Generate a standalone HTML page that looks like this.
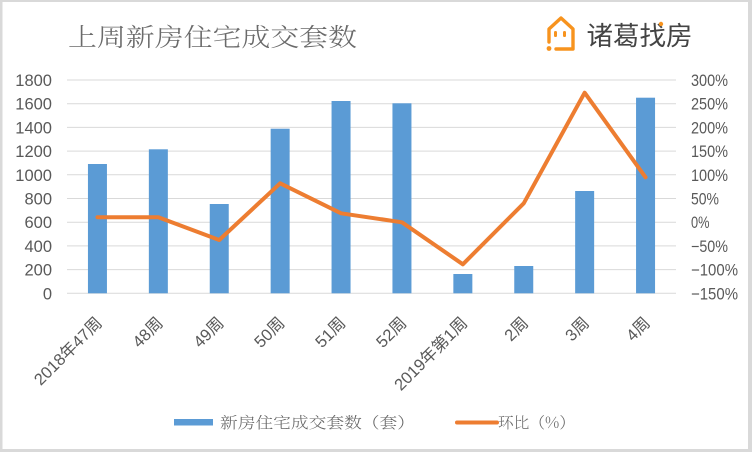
<!DOCTYPE html>
<html><head><meta charset="utf-8"><style>
html,body{margin:0;padding:0;background:#fff;}
svg{display:block;}
</style></head><body>
<svg width="752" height="452" viewBox="0 0 752 452" xmlns="http://www.w3.org/2000/svg">
<rect x="0" y="0" width="752" height="452" fill="#d9d9d9"/>
<rect x="2.5" y="2" width="745.5" height="447" fill="#ffffff"/>

<!-- title -->
<text x="68" y="46" font-family="'Noto Serif CJK SC','Liberation Serif',serif" font-size="25" font-weight="300" fill="#6a6a6a" textLength="289" lengthAdjust="spacingAndGlyphs">上周新房住宅成交套数</text>

<!-- logo -->
<g fill="none" stroke="#F7931E" stroke-width="3.4" stroke-linejoin="round" stroke-linecap="round">
<path d="M549 42 V29 L561 18 L573 29 V49 H556"/>
</g>
<circle cx="549" cy="48.5" r="2.4" fill="#F7931E"/>
<rect x="554" y="31" width="3" height="6" rx="1.4" fill="#F7931E"/>
<rect x="563" y="31" width="3" height="6" rx="1.4" fill="#F7931E"/>
<text x="586.5" y="45" font-family="'Noto Sans CJK SC',sans-serif" font-size="26" fill="#444444" textLength="106" lengthAdjust="spacingAndGlyphs">诸葛找房</text>
<circle cx="661" cy="24" r="2.2" fill="#F7931E"/>

<!-- gridlines -->
<g stroke="#d9d9d9" stroke-width="1">
<line x1="67" x2="676" y1="80" y2="80"/>
<line x1="67" x2="676" y1="103.7" y2="103.7"/>
<line x1="67" x2="676" y1="127.4" y2="127.4"/>
<line x1="67" x2="676" y1="151.1" y2="151.1"/>
<line x1="67" x2="676" y1="174.8" y2="174.8"/>
<line x1="67" x2="676" y1="198.5" y2="198.5"/>
<line x1="67" x2="676" y1="222.2" y2="222.2"/>
<line x1="67" x2="676" y1="245.9" y2="245.9"/>
<line x1="67" x2="676" y1="269.6" y2="269.6"/>
<line x1="67" x2="676" y1="293.3" y2="293.3"/>
</g>

<!-- left axis labels -->
<g font-family="'Liberation Sans',sans-serif" font-size="16.5" fill="#595959" text-anchor="end">
<text x="52" y="86">1800</text>
<text x="52" y="109.7">1600</text>
<text x="52" y="133.4">1400</text>
<text x="52" y="157.1">1200</text>
<text x="52" y="180.8">1000</text>
<text x="52" y="204.5">800</text>
<text x="52" y="228.2">600</text>
<text x="52" y="251.9">400</text>
<text x="52" y="275.6">200</text>
<text x="52" y="299.3">0</text>
</g>

<!-- right axis labels -->
<g font-family="'Liberation Sans',sans-serif" font-size="16.5" fill="#595959">
<text x="691" y="86" textLength="37" lengthAdjust="spacingAndGlyphs">300%</text>
<text x="691" y="109.7" textLength="37" lengthAdjust="spacingAndGlyphs">250%</text>
<text x="691" y="133.4" textLength="37" lengthAdjust="spacingAndGlyphs">200%</text>
<text x="691" y="157.1" textLength="37" lengthAdjust="spacingAndGlyphs">150%</text>
<text x="691" y="180.8" textLength="37" lengthAdjust="spacingAndGlyphs">100%</text>
<text x="691" y="204.5" textLength="28" lengthAdjust="spacingAndGlyphs">50%</text>
<text x="691" y="228.2" textLength="18.5" lengthAdjust="spacingAndGlyphs">0%</text>
<text x="691" y="251.9" textLength="37" lengthAdjust="spacingAndGlyphs">−50%</text>
<text x="691" y="275.6" textLength="47" lengthAdjust="spacingAndGlyphs">−100%</text>
<text x="691" y="299.3" textLength="47" lengthAdjust="spacingAndGlyphs">−150%</text>
</g>

<!-- bars -->
<g fill="#5B9BD5">
<rect x="87.95" y="164" width="19" height="129.3"/>
<rect x="148.85" y="149.3" width="19" height="144"/>
<rect x="209.75" y="204" width="19" height="89.3"/>
<rect x="270.65" y="128.7" width="19" height="164.6"/>
<rect x="331.55" y="101" width="19" height="192.3"/>
<rect x="392.45" y="103.3" width="19" height="190"/>
<rect x="453.35" y="274" width="19" height="19.3"/>
<rect x="514.25" y="266" width="19" height="27.3"/>
<rect x="575.15" y="191" width="19" height="102.3"/>
<rect x="636.05" y="97.7" width="19" height="195.6"/>
</g>

<!-- line -->
<polyline fill="none" stroke="#ED7D31" stroke-width="4" stroke-linejoin="round" stroke-linecap="round"
points="97.45,217.3 158.35,217.3 219.25,240 280.15,183.3 341.05,213.3 401.95,222.3 462.85,264.3 523.75,203.3 584.65,92.7 645.55,177.3"/>

<!-- x labels -->
<g font-family="'Liberation Sans','Noto Sans CJK SC',sans-serif" font-size="16.5" fill="#595959" text-anchor="end">
<text transform="translate(103,324) rotate(-45)">2018年47周</text>
<text transform="translate(163.9,324) rotate(-45)">48周</text>
<text transform="translate(224.8,324) rotate(-45)">49周</text>
<text transform="translate(285.7,324) rotate(-45)">50周</text>
<text transform="translate(346.6,324) rotate(-45)">51周</text>
<text transform="translate(407.5,324) rotate(-45)">52周</text>
<text transform="translate(468.4,324) rotate(-45)">2019年第1周</text>
<text transform="translate(529.3,324) rotate(-45)">2周</text>
<text transform="translate(590.2,324) rotate(-45)">3周</text>
<text transform="translate(651.1,324) rotate(-45)">4周</text>
</g>

<!-- legend -->
<rect x="174" y="419" width="39" height="6.5" fill="#5B9BD5"/>
<text x="220" y="428" font-family="'Noto Serif CJK SC','Liberation Serif',serif" font-size="15.5" font-weight="300" fill="#666666" textLength="195" lengthAdjust="spacingAndGlyphs">新房住宅成交套数（套）</text>
<line x1="457" x2="497" y1="422.5" y2="422.5" stroke="#ED7D31" stroke-width="4" stroke-linecap="round"/>
<text x="498" y="428" font-family="'Noto Serif CJK SC','Liberation Serif',serif" font-size="15.5" font-weight="300" fill="#666666" textLength="77" lengthAdjust="spacingAndGlyphs">环比（%）</text>
</svg>
</body></html>
